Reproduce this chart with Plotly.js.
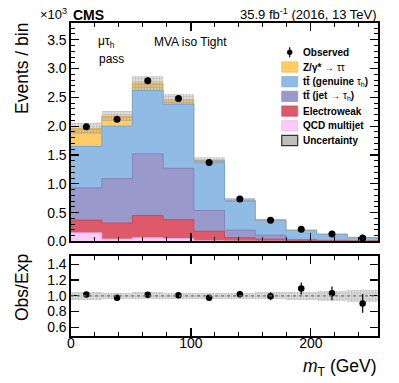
<!DOCTYPE html>
<html>
<head>
<meta charset="utf-8">
<script src="https://cdn.plot.ly/plotly-3.0.1.min.js"></script>
<style>
  html, body { margin: 0; padding: 0; background: #fff; }
  #plot { width: 399px; height: 383px; }
</style>
</head>
<body>
<div id="plot"></div>
<script>
// mT bins (GeV) and event yields in units of 10^3 events
var mtEdges = [0, 25.6, 51.2, 76.8, 102.4, 128, 153.6, 179.2, 204.8, 230.4, 256];

var qcd   = [0.15, 0.04, 0.065, 0.05, 0.012, 0.006, 0.003, 0.002, 0.001, 0.001];
var ewk   = [0.22, 0.28, 0.385, 0.33, 0.165, 0.06, 0.037, 0.018, 0.01, 0.006];
var ttJet = [0.56, 0.77, 1.07, 0.89, 0.36, 0.13, 0.07, 0.015, 0.01, 0.005];
var ttGen = [0.72, 0.91, 1.10, 1.11, 0.86, 0.52, 0.26, 0.16, 0.105, 0.055];
var ztt   = [0.31, 0.175, 0.13, 0.08, 0.01, 0.005, 0, 0, 0, 0];

// relative uncertainty on the expectation
var expUncRel = [0.053, 0.04, 0.045, 0.04, 0.04, 0.04, 0.042, 0.05, 0.063, 0.078];

var observed    = [1.99, 2.12, 2.79, 2.48, 1.37, 0.735, 0.368, 0.213, 0.13, 0.0605];
var observedErr = [0.045, 0.046, 0.053, 0.05, 0.037, 0.027, 0.019, 0.015, 0.011, 0.008];

var legendLabels = [
    "Observed",
    "<b>Z/γ*</b> → ττ",
    "<b>tt\u0304 (genuine </b>τ<sub>h</sub><b>)</b>",
    "<b>tt\u0304 (jet </b>→ τ<sub>h</sub><b>)</b>",
    "Electroweak",
    "QCD multijet",
    "Uncertainty"
];

var colZtt = "#ffcc66", colGen = "#8fbbe5", colJet = "#9a99cb", colEwk = "#de5a6a", colQcd = "#fdcafd";
var lineZtt = "#e6b04c", lineGen = "#78a6d3", lineJet = "#8684ba", lineEwk = "#c94a59", lineQcd = "#e8b0e8";

var FONT = "Liberation Sans, Arial, Helvetica, sans-serif";

// bins
var centers = [], widths = [];
for (var i = 0; i < mtEdges.length - 1; i++) {
    centers.push((mtEdges[i] + mtEdges[i + 1]) / 2);
    widths.push(mtEdges[i + 1] - mtEdges[i]);
}

// cumulative stack (drawn with overlay, biggest first)
var cQcd = [], cEwk = [], cJet = [], cGen = [], cTot = [];
for (var i = 0; i < centers.length; i++) {
    cQcd.push(qcd[i]);
    cEwk.push(cQcd[i] + ewk[i]);
    cJet.push(cEwk[i] + ttJet[i]);
    cGen.push(cJet[i] + ttGen[i]);
    cTot.push(cGen[i] + ztt[i]);
}

var uncBase = [], uncHeight = [], ratio = [], ratioErr = [], rBase = [], rHeight = [];
for (var i = 0; i < centers.length; i++) {
    uncBase.push(cTot[i] * (1 - expUncRel[i]));
    uncHeight.push(cTot[i] * 2 * expUncRel[i]);
    ratio.push(observed[i] / cTot[i]);
    ratioErr.push(observedErr[i] / cTot[i]);
    rBase.push(1 - expUncRel[i]);
    rHeight.push(2 * expUncRel[i]);
}

function stackBar(y, fill) {
    return {
        type: "bar", x: centers, y: y, width: widths,
        marker: { color: fill, line: { width: 0 } },
        xaxis: "x", yaxis: "y", showlegend: false, hoverinfo: "skip"
    };
}

// histogram outline as a step line along the bin edges
function stepLine(y, line) {
    return {
        type: "scatter", mode: "lines", x: mtEdges, y: y.concat([y[y.length - 1]]),
        line: { shape: "hv", color: line, width: 1 },
        xaxis: "x", yaxis: "y", showlegend: false, hoverinfo: "skip"
    };
}

var uncPattern = { shape: "+", size: 3, solidity: 0.25, fgcolor: "rgba(110,110,110,0.45)", bgcolor: "rgba(175,175,175,0.4)", fillmode: "replace" };

var data = [
    stackBar(cTot, colZtt),
    stackBar(cGen, colGen),
    stackBar(cJet, colJet),
    stackBar(cEwk, colEwk),
    stackBar(cQcd, colQcd),
    stepLine(cTot, lineZtt),
    stepLine(cGen, lineGen),
    stepLine(cJet, lineJet),
    stepLine(cEwk, lineEwk),
    stepLine(cQcd, lineQcd),
    {
        type: "bar", x: centers, y: uncHeight, base: uncBase, width: widths,
        marker: { color: "rgba(175,175,175,0.4)", line: { width: 0 }, pattern: uncPattern },
        xaxis: "x", yaxis: "y", showlegend: false, hoverinfo: "skip"
    },
    {
        type: "scatter", mode: "markers", x: centers, y: observed,
        error_y: { type: "data", array: observedErr, color: "#000", thickness: 1.2, width: 0 },
        marker: { color: "#000", size: 7 },
        xaxis: "x", yaxis: "y", showlegend: false
    },
    {
        type: "bar", x: centers, y: rHeight, base: rBase, width: widths,
        marker: { color: "rgba(185,185,185,0.55)", line: { width: 0 }, pattern: uncPattern },
        xaxis: "x2", yaxis: "y2", showlegend: false, hoverinfo: "skip"
    },
    {
        type: "scatter", mode: "markers", x: centers, y: ratio,
        error_y: { type: "data", array: ratioErr, color: "#000", thickness: 1.2, width: 0 },
        marker: { color: "#000", size: 6.5 },
        xaxis: "x2", yaxis: "y2", showlegend: false
    }
];

// pixel helpers (plot area: x 71..378, y 23..336)
function px(p) { return (p - 71) / 307; }
function py(p) { return (336 - p) / 313; }

var axisCommon = {
    showline: true, linecolor: "#000", linewidth: 1.6, mirror: "allticks",
    ticks: "inside", ticklen: 8, tickwidth: 1.3, tickcolor: "#000",
    showgrid: false, zeroline: false,
    tickfont: { family: FONT, size: 14, color: "#000" }
};

function ax(extra) {
    var o = {};
    for (var k in axisCommon) o[k] = axisCommon[k];
    for (var k in extra) o[k] = extra[k];
    return o;
}

var shapes = [
    { type: "line", xref: "x2", yref: "y2", x0: 0, x1: 256, y0: 1, y1: 1,
      line: { color: "#777", width: 1.2, dash: "dot" } }
];
var annotations = [];

// legend (hand-placed, CMS style)
var legFills = [null, colZtt, colGen, colJet, colEwk, colQcd, "#bdbdbd"];
var legLines = [null, lineZtt, lineGen, lineJet, lineEwk, lineQcd, "#333"];
for (var i = 0; i < legendLabels.length; i++) {
    var yc = 52.3 + i * 14.7;
    if (i === 0) {
        shapes.push({ type: "line", xref: "paper", yref: "paper",
            x0: px(289.7), x1: px(289.7), y0: py(yc - 5), y1: py(yc + 5),
            line: { color: "#000", width: 1.2 } });
        shapes.push({ type: "circle", xref: "paper", yref: "paper",
            x0: px(287.2), x1: px(292.2), y0: py(yc - 2.5), y1: py(yc + 2.5),
            fillcolor: "#000", line: { color: "#000", width: 0.5 } });
    } else {
        shapes.push({ type: "rect", xref: "paper", yref: "paper",
            x0: px(281.7), x1: px(297.7), y0: py(yc - 5.2), y1: py(yc + 5.2),
            fillcolor: legFills[i], line: { color: legLines[i], width: i === 6 ? 1.2 : 0.6 } });
    }
    var txt = legendLabels[i];
    if (txt.indexOf("<b>") < 0) txt = "<b>" + txt + "</b>";
    annotations.push({ xref: "paper", yref: "paper", x: px(300.7), y: py(yc),
        xanchor: "left", yanchor: "middle", showarrow: false, text: txt,
        font: { family: FONT, size: 10, color: "#000" } });
}

function note(text, xp, yp, xanchor, size, extra) {
    var a = { xref: "paper", yref: "paper", x: px(xp), y: py(yp), xanchor: xanchor,
        yanchor: "middle", showarrow: false, text: text,
        font: { family: FONT, size: size, color: "#000" } };
    for (var k in extra) a[k] = extra[k];
    annotations.push(a);
}

note("×10<sup>3</sup>", 69, 14, "right", 13);
note("<b>CMS</b>", 70.5, 15, "left", 14);
note("35.9 fb<sup>-1</sup> (2016, 13 TeV)", 379, 14, "right", 13);
note("μτ<sub>h</sub>", 96, 42, "left", 12);
note("pass", 96.5, 59, "left", 12);
note("MVA iso Tight", 152, 41.5, "left", 12);
note("Events / bin", 22, 69, "center", 17.5, { textangle: -90 });
note("Obs/Exp", 22, 288, "center", 17.5, { textangle: -90 });
note("<i>m</i><sub>T</sub> (GeV)", 379, 367, "right", 17.5);

var layout = {
    width: 399, height: 383,
    margin: { l: 71, r: 21, t: 23, b: 47 },
    paper_bgcolor: "#fff", plot_bgcolor: "#fff",
    barmode: "overlay", bargap: 0,
    showlegend: false,
    font: { family: FONT, color: "#000" },
    xaxis: ax({ domain: [0, 1], range: [0, 256], anchor: "y", showticklabels: false,
        dtick: 100, tick0: 0, minor: { dtick: 20, ticklen: 4, ticks: "inside", tickcolor: "#000", tickwidth: 1 } }),
    yaxis: ax({ domain: [0.302, 1], range: [0, 3.79], anchor: "x", dtick: 0.5, tick0: 0,
        tickformat: ".1f", minor: { dtick: 0.1, ticklen: 4, ticks: "inside", tickcolor: "#000", tickwidth: 1 } }),
    xaxis2: ax({ domain: [0, 1], range: [0, 256], anchor: "y2", ticklabelstandoff: -6,
        dtick: 100, tick0: 0, minor: { dtick: 20, ticklen: 4, ticks: "inside", tickcolor: "#000", tickwidth: 1 } }),
    yaxis2: ax({ domain: [0, 0.257], range: [0.49, 1.51], anchor: "x2", dtick: 0.2, tick0: 0.6,
        tickformat: ".1f", tickvals: [0.6, 0.8, 1.0, 1.2, 1.4] }),
    shapes: shapes,
    annotations: annotations
};

Plotly.newPlot("plot", data, layout, { staticPlot: true, displayModeBar: false });
</script>
</body>
</html>
